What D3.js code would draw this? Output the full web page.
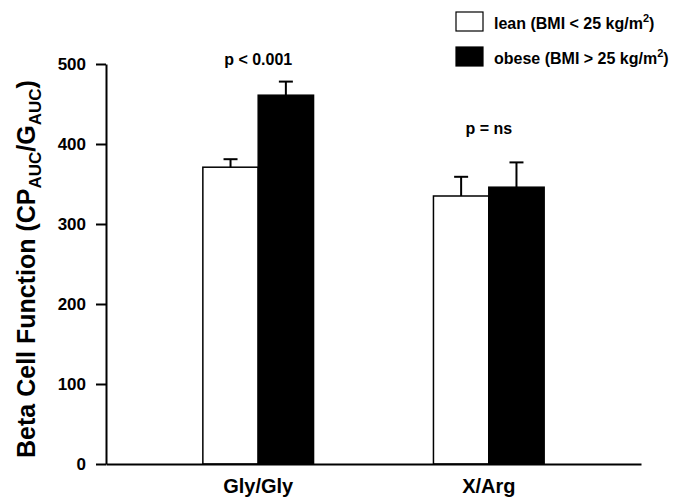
<!DOCTYPE html>
<html>
<head>
<meta charset="utf-8">
<script src="https://cdn.jsdelivr.net/npm/d3@7"></script>
<style>
  body { margin: 0; background: #fff; }
  text { font-family: "Liberation Sans", Arial, sans-serif; font-weight: bold; fill: #000; }
</style>
</head>
<body>
<div id="chart"></div>
<script>
// data
var categories = ['Gly/Gly', 'X/Arg'];
var groups = ['lean', 'obese'];
var leanMean = [371, 335];
var leanSE = [10, 24];
var obeseMean = [461, 346];
var obeseSE = [17, 31];
var pLabels = ['p < 0.001', 'p = ns'];
var yTicks = [0, 100, 200, 300, 400, 500];
var legendText = ['lean (BMI < 25 kg/m', 'obese (BMI > 25 kg/m'];

var W = 693, H = 498;

var svg = d3.select('#chart')
    .append('svg')
    .attr('width', W)
    .attr('height', H);

var x = d3.scaleBand().domain(categories).range([106, 641])
    .paddingInner(0.52).paddingOuter(0.42);
var xIn = d3.scaleBand().domain(groups).range([0, x.bandwidth()]);
var y = d3.scaleLinear().domain([0, 500]).range([464, 64]);

// build rows for the bars
var rows = [];
categories.forEach(function (c, i) {
    rows.push({cat: c, grp: 'lean', v: leanMean[i], se: leanSE[i]});
    rows.push({cat: c, grp: 'obese', v: obeseMean[i], se: obeseSE[i]});
});

// bars
svg.selectAll('.bar')
    .data(rows)
    .enter().append('rect')
    .attr('class', 'bar')
    .attr('x', function (d) { return x(d.cat) + xIn(d.grp); })
    .attr('y', function (d) { return y(d.v); })
    .attr('width', xIn.bandwidth())
    .attr('height', function (d) { return y(0) - y(d.v); })
    .style('fill', function (d) { return d.grp == 'lean' ? '#fff' : '#000'; })
    .style('stroke', '#000')
    .style('stroke-width', 1.5);

// error bars (upper only)
var err = svg.selectAll('.err')
    .data(rows)
    .enter().append('g')
    .attr('class', 'err')
    .attr('transform', function (d) {
        return 'translate(' + (x(d.cat) + xIn(d.grp) + xIn.bandwidth() / 2) + ',0)';
    });
err.append('line')
    .attr('x1', 0).attr('x2', 0)
    .attr('y1', function (d) { return y(d.v); })
    .attr('y2', function (d) { return y(d.v + d.se); })
    .style('stroke', '#000').style('stroke-width', 2);
err.append('line')
    .attr('x1', -7).attr('x2', 7)
    .attr('y1', function (d) { return y(d.v + d.se); })
    .attr('y2', function (d) { return y(d.v + d.se); })
    .style('stroke', '#000').style('stroke-width', 2);

// axes
var yAxis = svg.append('g')
    .attr('transform', 'translate(106,0)')
    .call(d3.axisLeft(y).tickValues(yTicks).tickSize(10).tickSizeOuter(0).tickPadding(10));
var xAxis = svg.append('g')
    .attr('transform', 'translate(0,464)')
    .call(d3.axisBottom(x).tickSize(0).tickSizeOuter(0).tickPadding(15));

yAxis.selectAll('path, line').style('stroke', '#000').style('stroke-width', 2);
xAxis.selectAll('path').style('stroke', '#000').style('stroke-width', 2);
yAxis.selectAll('text').style('font-size', '17px').style('font-family', '"Liberation Sans", Arial, sans-serif').style('font-weight', 'bold');
xAxis.selectAll('text').style('font-size', '20px').style('font-family', '"Liberation Sans", Arial, sans-serif').style('font-weight', 'bold');

// y axis title with subscripts
var yt = svg.append('text')
    .attr('transform', 'translate(35,269) rotate(-90)')
    .attr('text-anchor', 'middle')
    .style('font-size', '25px');
yt.append('tspan').text('Beta Cell Function (CP');
yt.append('tspan').attr('dy', 6).style('font-size', '17px').text('AUC');
yt.append('tspan').attr('dy', -6).text('/G');
yt.append('tspan').attr('dy', 6).style('font-size', '17px').text('AUC');
yt.append('tspan').attr('dy', -6).text(')');

// p value labels
svg.selectAll('.plab')
    .data(categories)
    .enter().append('text')
    .attr('class', 'plab')
    .attr('x', function (d) { return x(d) + x.bandwidth() / 2; })
    .attr('y', function (d, i) { return i == 0 ? 65 : 134; })
    .attr('text-anchor', 'middle')
    .style('font-size', '16px')
    .text(function (d, i) { return pLabels[i]; });

// legend
var leg = svg.selectAll('.leg')
    .data(groups)
    .enter().append('g')
    .attr('class', 'leg')
    .attr('transform', function (d, i) { return 'translate(456,' + (12 + i * 35) + ')'; });
leg.append('rect')
    .attr('width', 27).attr('height', 19)
    .style('fill', function (d) { return d == 'lean' ? '#fff' : '#000'; })
    .style('stroke', '#000').style('stroke-width', 1.2);
var lt = leg.append('text')
    .attr('x', 38).attr('y', 17)
    .style('font-size', '16px');
lt.append('tspan').text(function (d, i) { return legendText[i]; });
lt.append('tspan').attr('dy', -7).style('font-size', '11px').text('2');
lt.append('tspan').attr('dy', 7).text(')');
</script>
</body>
</html>
